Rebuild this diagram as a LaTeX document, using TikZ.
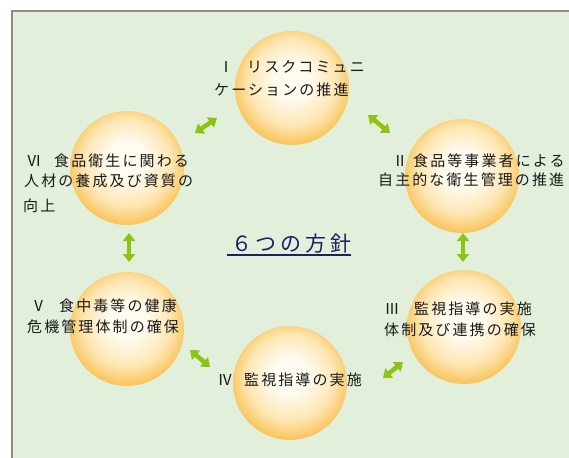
\documentclass[tikz,border=0pt]{standalone}
\usepackage{fontspec}
\newfontfamily\jp[LetterSpace=14]{Noto Sans CJK JP}
\newfontfamily\jpt[LetterSpace=18]{Noto Sans CJK JP}
\usetikzlibrary{arrows.meta,calc}
\definecolor{bgc}{HTML}{E2EFDA}
\definecolor{framec}{HTML}{8C8C8C}
\definecolor{orbA}{HTML}{FFFBF0}
\definecolor{orbB}{HTML}{FDE6B2}
\definecolor{orbC}{HTML}{F9C762}
\definecolor{arrc}{HTML}{8CC414}
\definecolor{txtc}{HTML}{1A1A1A}
\definecolor{navy}{HTML}{1F1F66}
\pgfdeclareradialshading{orbshade}{\pgfpoint{0bp}{4bp}}{color(0bp)=(orbA); color(8bp)=(orbA); color(19bp)=(orbB); color(26bp)=(orbC); color(50bp)=(orbC)}
\begin{document}
\begin{tikzpicture}[x=1pt,y=-1pt,
  orbnode/.style={circle, minimum size=114pt, inner sep=0pt, shading=orbshade},
  txt/.style={font=\jp\fontsize{15pt}{18pt}\selectfont, anchor=base west, inner sep=0pt, text=txtc},
  num/.style={font=\jp\fontsize{15pt}{18pt}\selectfont, anchor=base, inner sep=0pt, text=txtc},
  dblarr/.style={line width=4.5pt, draw=arrc, {Triangle[width=12pt,length=8pt]}-{Triangle[width=12pt,length=8pt]}}]
\useasboundingbox (0,0) rectangle (569,457);
\clip (0,0) rectangle (569,457);
\fill[white] (0,0) rectangle (569,457);
\draw[draw=framec, line width=2.5pt, fill=bgc] (12,11) rectangle (600,490);
% circles
\node[orbnode] (I) at (292,88) {};
\node[orbnode] (II) at (462,176) {};
\node[orbnode] (III) at (464,327) {};
\node[orbnode] (IV) at (290,383) {};
\node[orbnode] (V) at (127,329) {};
\node[orbnode] (VI) at (127,168) {};
% arrows
\coordinate (a1s) at (368,115); \coordinate (a1e) at (390,133);
\coordinate (a2s) at (217,118); \coordinate (a2e) at (195,133);
\coordinate (a3s) at (129,233); \coordinate (a3e) at (129,262);
\coordinate (a4s) at (463,233); \coordinate (a4e) at (463,262);
\coordinate (a5s) at (190,350); \coordinate (a5e) at (210,367);
\coordinate (a6s) at (383,378); \coordinate (a6e) at (403,362);
\draw[dblarr] (a1s) -- (a1e);
\draw[dblarr] (a2s) -- (a2e);
\draw[dblarr] (a3s) -- (a3e);
\draw[dblarr] (a4s) -- (a4e);
\draw[dblarr] (a5s) -- (a5e);
\draw[dblarr] (a6s) -- (a6e);
% texts
\node[num] (nI) at (226,72.5) {Ⅰ};
\node[txt] (tI1) at (247,72.5) {リスクコミュニ};
\node[txt] (tI2) at (214,95.5) {ケーションの推進};
\node[num] (nII) at (400,166.5) {Ⅱ};
\node[txt] (tII1) at (413,166.5) {食品等事業者による};
\node[txt] (tII2) at (378,185.5) {自主的な衛生管理の推進};
\node[num] (nVI) at (34,166.5) {Ⅵ};
\node[txt] (tVI1) at (54,166.5) {食品衛生に関わる};
\node[txt] (tVI2) at (24,186.5) {人材の養成及び資質の};
\node[txt] (tVI3) at (23,211.5) {向上};
\node[num] (nV) at (38.5,311.5) {Ⅴ};
\node[txt] (tV1) at (59,311.5) {食中毒等の健康};
\node[txt] (tV2) at (27,332.5) {危機管理体制の確保};
\node[num] (nIII) at (392,314.5) {Ⅲ};
\node[txt] (tIII1) at (414,314.5) {監視指導の実施};
\node[txt] (tIII2) at (384,335.5) {体制及び連携の確保};
\node[num] (nIV) at (225,385.5) {Ⅳ};
\node[txt] (tIV1) at (244,385.5) {監視指導の実施};
% title
\node[font=\jpt\fontsize{21pt}{24pt}\selectfont, anchor=base west, inner sep=0pt, text=navy] (title) at (231,251) {６つの方針};
\draw[navy, line width=1.2pt] ([xshift=-4pt,yshift=-4pt]title.base west) -- ([xshift=-1pt,yshift=-4pt]title.base east);
\end{tikzpicture}
\end{document}
